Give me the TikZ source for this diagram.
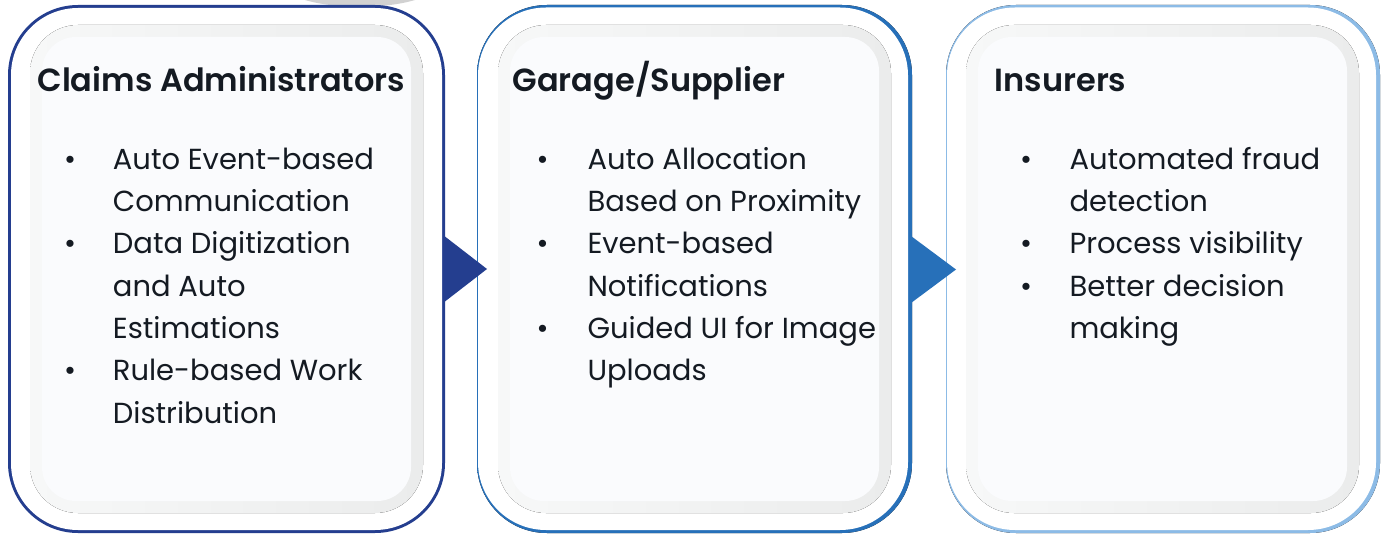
\documentclass[tikz,border=0pt]{standalone}
\usepackage{fontspec}
\IfFontExistsTF{Poppins SemiBold}{\setmainfont{Poppins}[BoldFont={Poppins SemiBold}]}{\setmainfont{Poppins}}
\definecolor{navy}{HTML}{243E8F}
\definecolor{midblue}{HTML}{2770B9}
\definecolor{lightblue}{HTML}{8CBBE6}
\definecolor{ink}{HTML}{141A22}
\definecolor{ringA}{HTML}{F7F8F8}
\definecolor{ringB}{HTML}{EBECEC}
\definecolor{panelin}{HTML}{FAFBFD}
\pgfdeclarehorizontalshading{fademid}{100bp}{color(0bp)=(midblue!10); color(10bp)=(midblue!70); color(22bp)=(midblue); color(100bp)=(midblue)}
\pgfdeclarehorizontalshading{fadelight}{100bp}{color(0bp)=(lightblue!10); color(10bp)=(lightblue!70); color(22bp)=(lightblue); color(100bp)=(lightblue)}
\begin{document}
\begin{tikzpicture}[x=1pt,y=-1pt,
  title/.style={anchor=base west, inner sep=0pt, font=\fontsize{32}{38}\selectfont\bfseries, text=ink},
  body/.style={anchor=base west, inner sep=0pt, font=\fontsize{29}{35}\selectfont, text=ink},
  bul/.style={anchor=base, inner sep=0pt, font=\fontsize{29}{35}\selectfont, text=ink},
  ring/.style={rounded corners=48pt, left color=ringA, right color=ringB},
  inner/.style={rounded corners=34pt, fill=panelin}]
\useasboundingbox (0,0) rectangle (1384,535);
\fill[white] (0,0) rectangle (1384,535);
% faint grey arc at top
\fill[black!18] (305,0) .. controls (335,9) and (385,9) .. (415,0) -- cycle;
% panel 1
\fill[navy, rounded corners=70pt] (8,5) rectangle (445,533);
\fill[white, rounded corners=67pt] (11,8) rectangle (442,530);
\fill[ring] (30,25) rectangle (423,513);
\fill[inner] (42,37) rectangle (411,501);
% panel 2
\fill[rounded corners=70pt, shading=fademid] (477,5) rectangle (912,533);
\fill[white, rounded corners=68pt] (478,7.5) rectangle (908,530);
\fill[ring] (498,25) rectangle (891,513);
\fill[inner] (510,37) rectangle (879,501);
% panel 3
\fill[rounded corners=70pt, shading=fadelight] (946,5) rectangle (1380,533);
\fill[white, rounded corners=68pt] (947,7.5) rectangle (1376,530);
\fill[ring] (966,25) rectangle (1359,513);
\fill[inner] (978,37) rectangle (1347,501);
% arrows
\coordinate (e1) at (443,269);
\coordinate (e2) at (911,269.5);
\fill[navy] (e1) ++(0,-34) -- ++(44,34) -- ++(-44,34) -- cycle;
\fill[midblue] (e2) ++(0,-33.5) -- ++(45,33.5) -- ++(-45,33.5) -- cycle;
% titles
\node[title] (t1) at (37.3,91.7) {Claims Administrators};
\node[title] (t2) at (512.5,91.7) {Garage/Supplier};
\node[title] (t3) at (994.5,91.7) {Insurers};
% panel 1 text
\foreach \t [count=\i from 0] in {Auto Event-based, Communication, Data Digitization, and Auto, Estimations, Rule-based Work, Distribution}
  \node[body] (a\i) at (112.7,{169.3+42.33*\i}) {\t};
\foreach \i in {0,2,5} \node[bul] (ab\i) at (70,{169.3+42.33*\i}) {•};
% panel 2 text
\foreach \t [count=\i from 0] in {Auto Allocation, Based on Proximity, Event-based, Notifications, Guided UI for Image, Uploads}
  \node[body] (b\i) at (587.3,{169.3+42.33*\i}) {\t};
\foreach \i in {0,2,4} \node[bul] (bb\i) at (542.7,{169.3+42.33*\i}) {•};
% panel 3 text
\foreach \t [count=\i from 0] in {Automated fraud, detection, Process visibility, Better decision, making}
  \node[body] (c\i) at (1069.3,{169.3+42.33*\i}) {\t};
\foreach \i in {0,2,3} \node[bul] (cb\i) at (1026,{169.3+42.33*\i}) {•};
\end{tikzpicture}
\end{document}
